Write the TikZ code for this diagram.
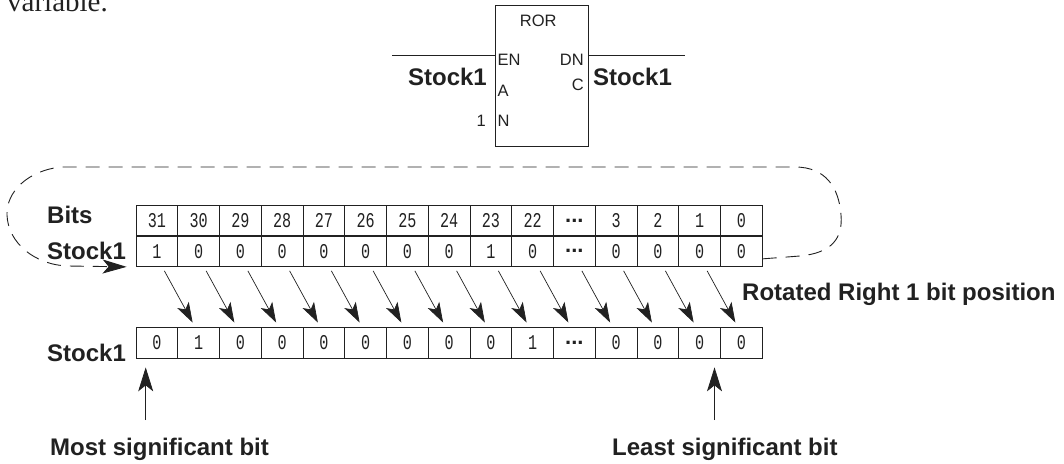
\documentclass[tikz,border=0pt]{standalone}
\usepackage{fontspec}
\setmainfont{Liberation Sans}
\newfontfamily\serifA{Liberation Serif}
\newfontfamily\cellfont[FakeStretch=0.72]{Liberation Mono}
\usetikzlibrary{arrows.meta}
\newcommand\celldots{{\rmfamily\bfseries\fontsize{22}{22}\selectfont ...}}
\definecolor{ink}{gray}{0.13}
\tikzset{
  lbl/.style={font=\fontsize{24}{28}\selectfont\bfseries, inner sep=0pt, text=ink},
  boxt/.style={font=\fontsize{16.5}{19}\selectfont, inner sep=0pt, text=ink},
  cell/.style={draw=ink, line width=0.8pt, minimum width=41.75pt, minimum height=30.5pt,
    inner sep=0pt, text=ink, font=\cellfont\fontsize{21}{24}\selectfont},
  rotarrow/.style={draw=ink, line width=0.7pt, -{Stealth[length=20pt,width=13pt,inset=5pt]}},
  uparrow/.style={draw=ink, line width=0.8pt, -{Stealth[length=24pt,width=15pt,inset=6pt]}},
  loopline/.style={draw=ink, line width=0.9pt, dash pattern=on 14pt off 9pt,
    -{Stealth[length=24pt,width=14pt,inset=6pt]}},
  wire/.style={draw=ink, line width=0.9pt}
}
\begin{document}
\begin{tikzpicture}[x=1pt,y=-1pt]
\useasboundingbox (0,0) rectangle (1064,463);

% heading fragment
\node[font=\serifA\fontsize{29}{30}\selectfont, anchor=base west, inner sep=0pt, text=ink] (var) at (7,12) {variable.};

% ROR block
\node[draw=ink, line width=0.9pt, minimum width=93pt, minimum height=141pt, inner sep=0pt] (ror) at (541.5,75.5) {};
\node[boxt, anchor=base] (rortitle) at (538.3,26.7) {ROR};
\node[boxt, anchor=base west] (en) at (497.5,65) {EN};
\node[boxt, anchor=base east] (dn) at (584,65) {DN};
\node[boxt, anchor=base west] (pa) at (497.5,96.7) {A};
\node[boxt, anchor=base east] (pc) at (584,90) {C};
\node[boxt, anchor=base west] (pn) at (497.5,126) {N};
\node[boxt, anchor=base east] (one) at (486,126) {1};
\node[lbl, anchor=base east] (sin) at (487,85) {Stock1};
\node[lbl, anchor=base west] (sout) at (593,85) {Stock1};
\coordinate (inl) at (392,55);
\coordinate (outr) at (685,55);
\draw[wire] (inl) -- (inl -| ror.west);
\draw[wire] (ror.east |- outr) -- (outr);

% tables
\foreach \lab [count=\i from 0] in {31,30,29,28,27,26,25,24,23,22,\celldots,3,2,1,0}
  \node[cell] (b\i) at ({136+(\i+0.5)*41.75},220.5) {\lab};
\foreach \lab [count=\i from 0] in {1,0,0,0,0,0,0,0,1,0,\celldots,0,0,0,0}
  \node[cell] (v\i) at ({136+(\i+0.5)*41.75},251.2) {\lab};
\foreach \lab [count=\i from 0] in {0,1,0,0,0,0,0,0,0,1,\celldots,0,0,0,0}
  \node[cell] (r\i) at ({136+(\i+0.5)*41.75},342.7) {\lab};

% labels
\node[lbl, anchor=base west] (bits) at (47,223) {Bits};
\node[lbl, anchor=base west] (s1) at (47,259) {Stock1};
\node[lbl, anchor=base west] (s2) at (47,361.5) {Stock1};
\node[lbl, anchor=base west] (rot) at (742,300) {Rotated Right 1 bit position};
\node[lbl, anchor=base west] (msb) at (50,455) {Most significant bit};
\node[lbl, anchor=base west] (lsb) at (612,455) {Least significant bit};

% shift arrows
\foreach \i [evaluate=\i as \j using int(\i+1)] in {0,...,13}
  \draw[rotarrow] ([xshift=7.5pt,yshift=-4pt]v\i.south) -- ([xshift=-6pt,yshift=4.5pt]r\j.north);

% rotation loop
\draw[loopline] ([yshift=8pt]v14.south east) -- (800,256)
  .. controls (832,253) and (843,238) .. (841,215)
  .. controls (839,188) and (826,167) .. (795,167) -- (62,167)
  .. controls (28,170) and (6,192) .. (7,215)
  .. controls (8,243) and (35,265) .. (68,266) -- ([xshift=-9pt]v0.south west);

% msb / lsb arrows
\coordinate (msbtail) at (145.7,420);
\coordinate (lsbtail) at (714.5,420);
\draw[uparrow] (msbtail) -- ([yshift=-9pt]msbtail |- r0.south);
\draw[uparrow] (lsbtail) -- ([yshift=-9pt]lsbtail |- r13.south);
\end{tikzpicture}
\end{document}
